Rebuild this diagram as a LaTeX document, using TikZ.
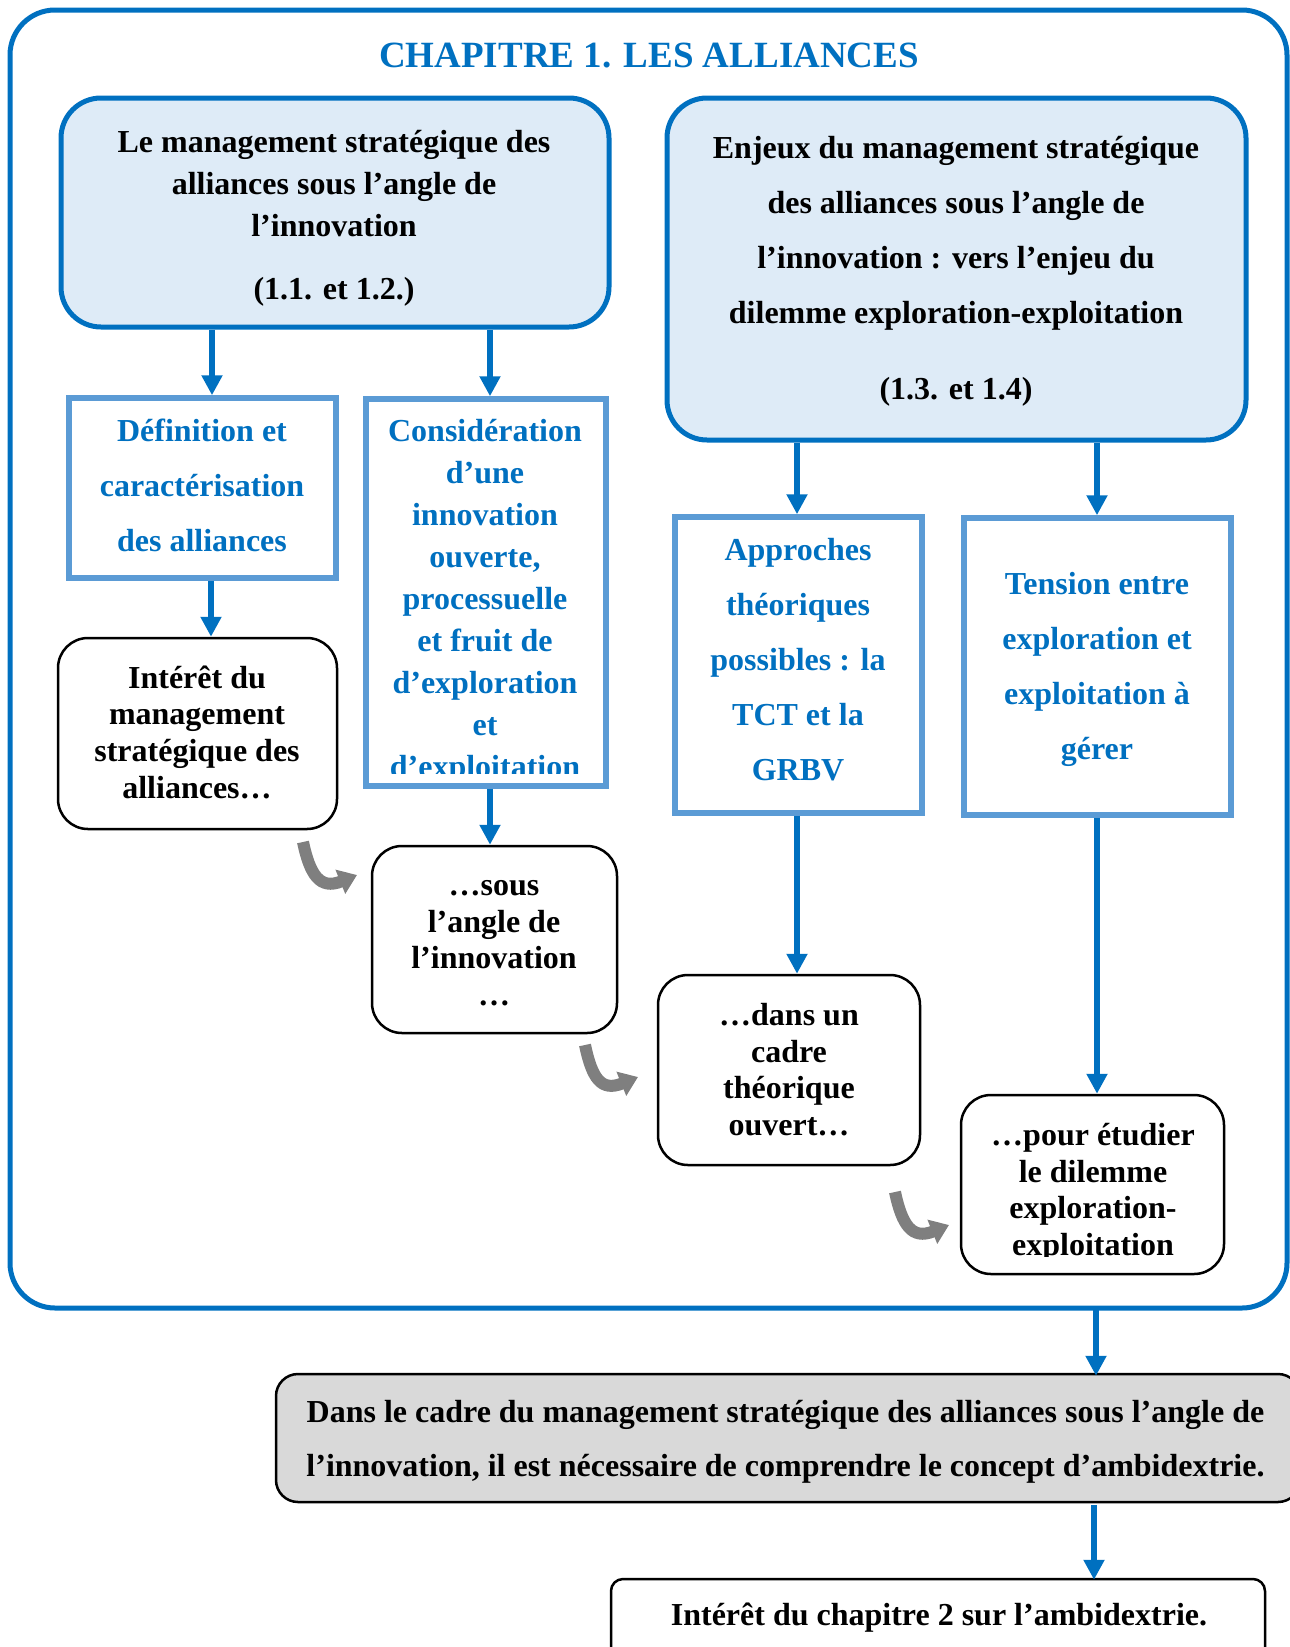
\documentclass[tikz,border=0pt]{standalone}
\usepackage{fontspec}
\setmainfont{Liberation Serif}
\usetikzlibrary{arrows.meta}
\definecolor{dblue}{HTML}{0070C0}
\definecolor{mblue}{HTML}{5B9BD5}
\definecolor{lblue}{HTML}{DEEBF7}
\definecolor{gfill}{HTML}{D9D9D9}
\definecolor{garrow}{HTML}{7F7F7F}
\begin{document}
\begin{tikzpicture}[x=1pt,y=-1pt,
  frame/.style={draw=dblue, line width=5pt, rounded corners=45pt, inner sep=0pt},
  rbox/.style={draw=dblue, line width=5pt, fill=lblue, rounded corners=40pt, inner sep=0pt},
  sbox/.style={draw=mblue, line width=5.5pt, fill=white, inner sep=0pt},
  kbox/.style={draw=black, line width=2.5pt, fill=white, rounded corners=30pt, inner sep=0pt},
  gbox/.style={draw=black, line width=2.5pt, fill=gfill, rounded corners=22pt, inner sep=0pt},
  lbox/.style={draw=black, line width=2.5pt, fill=white, rounded corners=12pt, inner sep=0pt},
  txt/.style={inner sep=0pt, align=center, execute at begin node=\strut, execute at end node=\strut},
  fa/.style={font=\fontsize{32}{42}\selectfont\bfseries},
  fb/.style={font=\fontsize{32}{55}\selectfont\bfseries},
  fc/.style={font=\fontsize{32}{36.6}\selectfont\bfseries},
  fd/.style={font=\fontsize{32}{54}\selectfont\bfseries},
  barrow/.style={draw=dblue, line width=6pt, -{Triangle[width=20pt,length=20pt]}},
  garr/.style={draw=garrow, line width=12pt, -{Triangle[width=25pt,length=18pt]}}
]
\useasboundingbox (0,0) rectangle (1290,1647);

% outer frame
\node[frame, minimum width=1277pt, minimum height=1298pt] (frame) at (648.5,659) {};
\node[inner sep=0pt, anchor=base, text=dblue, font=\fontsize{37}{40}\selectfont\bfseries] (title) at (649,67) {CHAPITRE 1. LES ALLIANCES};

% boxes
\node[rbox, minimum width=548pt, minimum height=229pt] (box1) at (335,212.5) {};
\node[rbox, minimum width=579pt, minimum height=342pt] (box2) at (956.5,269) {};
\node[sbox, minimum width=267pt, minimum height=180pt] (def) at (202.5,488) {};
\node[sbox, minimum width=240pt, minimum height=387pt] (consid) at (486,592.5) {};
\node[sbox, minimum width=247pt, minimum height=296pt] (appr) at (798.5,665) {};
\node[sbox, minimum width=267pt, minimum height=297pt] (tens) at (1097.5,666.5) {};
\node[kbox, minimum width=279pt, minimum height=191pt] (inter) at (197.5,733.5) {};
\node[kbox, minimum width=245pt, minimum height=187pt] (sous) at (494.5,939.5) {};
\node[kbox, minimum width=262pt, minimum height=190pt] (dans) at (789,1070) {};
\node[kbox, minimum width=263pt, minimum height=179pt] (pour) at (1092.5,1184.5) {};
\node[gbox, minimum width=1024pt, minimum height=128pt] (gray) at (788,1438) {};
\node[lbox, minimum width=654pt, minimum height=100pt] (last) at (938,1629) {};

% texts
\node[txt, fa] (t1) at (334,221.5) {Le management stratégique des\\alliances sous l’angle de\\l’innovation\\[21pt](1.1. et 1.2.)};
\node[txt, fb] (t2) at (956,276) {Enjeux du management stratégique\\des alliances sous l’angle de\\l’innovation : vers l’enjeu du\\dilemme exploration-exploitation\\[21pt](1.3. et 1.4)};
\node[txt, fb, text=dblue] (tdef) at (202,493.5) {Définition et\\caractérisation\\des alliances};
\coordinate (cclip) at (606,773);
\begin{scope}
\clip (consid.north west) rectangle (cclip);
\node[txt, fa, text=dblue] (tcons) at (485,604.6) {Considération\\d’une\\innovation\\ouverte,\\processuelle\\et fruit de\\d’exploration\\et\\d’exploitation};
\end{scope}
\node[txt, fb, text=dblue] (tappr) at (798,667.5) {Approches\\théoriques\\possibles : la\\TCT et la\\GRBV};
\node[txt, fb, text=dblue] (ttens) at (1097,674) {Tension entre\\exploration et\\exploitation à\\gérer};
\node[txt, fc] (tinter) at (197,737.4) {Intérêt du\\management\\stratégique des\\alliances…};
\node[txt, fc] (tsous) at (494,948.4) {…sous\\l’angle de\\l’innovation\\…};
\node[txt, fc] (tdans) at (789,1074.7) {…dans un\\cadre\\théorique\\ouvert…};
\coordinate (pclip) at (1224,1256);
\begin{scope}
\clip (pour.north west) rectangle (pclip);
\node[txt, fc] (tpour) at (1093,1194.7) {…pour étudier\\le dilemme\\exploration-\\exploitation};
\end{scope}
\node[txt, fd] (tgray) at (785.5,1446) {Dans le cadre du management stratégique des alliances sous l’angle de\\l’innovation, il est nécessaire de comprendre le concept d’ambidextrie.};
\node[txt, font=\fontsize{32}{40}\selectfont\bfseries] (tlast) at (939,1617) {Intérêt du chapitre 2 sur l’ambidextrie.};

% blue arrows
\coordinate (a1) at ([xshift=9.5pt]def.north);
\coordinate (a2) at ([xshift=4pt]consid.north);
\coordinate (a3) at ([xshift=8.5pt]def.south);
\coordinate (a4) at ([xshift=4pt]consid.south);
\coordinate (a5) at ([xshift=-1.5pt]appr.north);
\coordinate (a6) at ([xshift=-0.5pt]tens.north);
\coordinate (a7) at ([xshift=-1.5pt]appr.south);
\coordinate (a8) at ([xshift=-0.5pt]tens.south);
\coordinate (a9) at (1096,1310);
\coordinate (a10) at (1094,1505);
\draw[barrow] (box1.south -| a1) -- (a1);
\draw[barrow] (box1.south -| a2) -- (a2);
\draw[barrow] (a3) -- (inter.north -| a3);
\draw[barrow] (a4) -- (sous.north -| a4);
\draw[barrow] (box2.south -| a5) -- (a5);
\draw[barrow] (box2.south -| a6) -- (a6);
\draw[barrow] (a7) -- (dans.north -| a7);
\draw[barrow] (a8) -- (pour.north -| a8);
\draw[barrow] (a9) -- ([yshift=-3pt]gray.north -| a9);
\draw[barrow] (a10) -- ([yshift=-2pt]last.north -| a10);

% gray curved arrows
\coordinate (g1s) at (303,842);
\coordinate (g1e) at (357,875);
\coordinate (g2s) at (585,1045);
\coordinate (g2e) at (638,1077);
\coordinate (g3s) at (895,1192);
\coordinate (g3e) at (949,1225);
\draw[garr] (g1s) .. controls +(7,33) and +(-37,15) .. (g1e);
\draw[garr] (g2s) .. controls +(7,33) and +(-37,15) .. (g2e);
\draw[garr] (g3s) .. controls +(7,33) and +(-37,15) .. (g3e);
\end{tikzpicture}
\end{document}
